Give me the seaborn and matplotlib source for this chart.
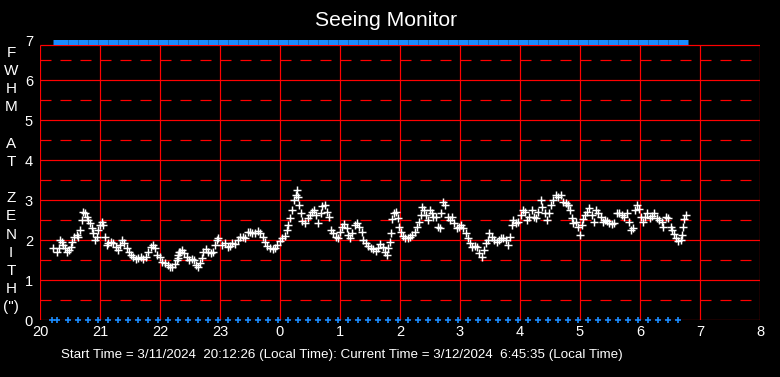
import matplotlib
matplotlib.use("Agg")
import matplotlib.pyplot as plt
import seaborn as sns
import pandas as pd

sns.set_theme(style="dark")
plt.rcParams['font.family'] = ['Liberation Sans', 'DejaVu Sans']
plt.rcParams['lines.scale_dashes'] = False

# ---------------- data ----------------
title = "Seeing Monitor"
footer = ("Start Time = 3/11/2024  20:12:26 (Local Time): "
          "Current Time = 3/12/2024  6:45:35 (Local Time)")
ylabel_letters = ["F", "W", "H", "M", "", "A", "T", "", "Z", "E", "N", "I", "T", "H", "(\")"]
x_ticks = [0, 1, 2, 3, 4, 5, 6, 7, 8, 9, 10, 11, 12]          # hours after 20:00
x_tick_labels = ["20", "21", "22", "23", "0", "1", "2", "3", "4", "5", "6", "7", "8"]
y_ticks = [0, 1, 2, 3, 4, 5, 6, 7]
y_half = [0.5, 1.5, 2.5, 3.5, 4.5, 5.5, 6.5]

# elapsed hours since 20:00 and FWHM (arcsec)
hours = [
    0.222, 0.278, 0.317, 0.333, 0.361, 0.389, 0.417, 0.444, 0.483, 0.517, 0.539, 0.572,
    0.611, 0.639, 0.667, 0.694, 0.722, 0.75, 0.778, 0.806, 0.833, 0.861, 0.889, 0.917,
    0.944, 0.972, 1.0, 1.028, 1.056, 1.083, 1.111, 1.139, 1.178, 1.222, 1.261, 1.294,
    1.333, 1.372, 1.406, 1.444, 1.483, 1.517, 1.556, 1.594, 1.639, 1.683, 1.722, 1.761,
    1.806, 1.85, 1.878, 1.917, 1.956, 2.0, 2.039, 2.083, 2.128, 2.167, 2.206, 2.25,
    2.294, 2.322,
    2.278, 2.306, 2.333, 2.372, 2.406, 2.444, 2.483, 2.528, 2.567, 2.6, 2.639, 2.667,
    2.694, 2.722, 2.761, 2.806, 2.85, 2.889, 2.917, 2.944, 2.972, 3.028, 3.083, 3.128,
    3.167, 3.206, 3.25, 3.294, 3.333, 3.378, 3.417, 3.461, 3.5, 3.539, 3.583, 3.628,
    3.672, 3.711, 3.75, 3.789, 3.833, 3.878, 3.917, 3.956, 4.0, 4.039, 4.083, 4.117,
    4.139, 4.167, 4.206, 4.233, 4.261, 4.283, 4.306, 4.322, 4.344, 4.372, 4.417, 4.461,
    4.5,
    4.528, 4.567, 4.6, 4.639, 4.678, 4.706, 4.75, 4.789, 4.822, 4.85, 4.889, 4.928,
    4.961, 5.0, 5.039, 5.072, 5.111, 5.139, 5.167, 5.206, 5.25, 5.289, 5.322, 5.361,
    5.389, 5.428, 5.472, 5.511, 5.556, 5.6, 5.639, 5.672, 5.711, 5.75, 5.778, 5.806,
    5.833, 5.85, 5.872, 5.906, 5.933, 5.961, 5.989, 6.017, 6.044, 6.083, 6.128, 6.167,
    6.206, 6.25, 6.283, 6.317, 6.344, 6.372, 6.4, 6.428, 6.461, 6.5, 6.528, 6.556,
    6.594, 6.628, 6.667,
    6.683, 6.711, 6.75, 6.794, 6.833, 6.872, 6.906, 6.944, 6.983, 7.017, 7.056, 7.094,
    7.139, 7.167, 7.206, 7.25, 7.289, 7.322, 7.361, 7.4, 7.433, 7.461, 7.489, 7.528,
    7.567, 7.611, 7.65, 7.683, 7.722, 7.761, 7.794, 7.833, 7.861, 7.889, 7.928, 7.972,
    8.017, 8.044, 8.083, 8.122, 8.156, 8.194, 8.233, 8.267, 8.306, 8.344, 8.372, 8.417,
    8.444, 8.483, 8.517, 8.556, 8.594, 8.639, 8.683, 8.722, 8.761, 8.794,
    8.806, 8.833, 8.861, 8.889, 8.928, 8.961, 9.0, 9.028, 9.056, 9.083, 9.122, 9.156,
    9.194, 9.233, 9.267, 9.306, 9.344, 9.378, 9.417, 9.456, 9.489, 9.528, 9.567, 9.611,
    9.65, 9.694, 9.733, 9.778, 9.817, 9.85, 9.889, 9.917, 9.944, 9.983, 10.017, 10.044,
    10.083, 10.122, 10.167, 10.206, 10.239, 10.278, 10.317, 10.361, 10.389, 10.428,
    10.472, 10.511, 10.539, 10.567, 10.6, 10.639, 10.678, 10.706, 10.722, 10.739, 10.761,
]
fwhm = [
    1.79, 1.71, 1.79, 2.0, 1.96, 1.875, 1.79, 1.71, 1.75, 1.83, 1.96, 2.08,
    2.12, 2.08, 2.25, 2.5, 2.71, 2.67, 2.58, 2.5, 2.42, 2.29, 2.17, 2.0,
    2.08, 2.25, 2.375, 2.46, 2.375, 2.08, 1.875, 1.92, 1.96, 1.92, 1.83, 1.75,
    1.875, 2.0, 1.92, 1.79, 1.71, 1.625, 1.57, 1.52, 1.54, 1.57, 1.53, 1.58,
    1.71, 1.83, 1.875, 1.79, 1.625, 1.57, 1.46, 1.42, 1.375, 1.33, 1.32, 1.40,
    1.54, 1.71,
    1.5, 1.625, 1.71, 1.75, 1.67, 1.57, 1.5, 1.52, 1.5, 1.375, 1.32, 1.42,
    1.54, 1.71, 1.77, 1.71, 1.67, 1.71, 1.875, 2.0, 2.04, 1.875, 1.92, 1.82,
    1.85, 1.92, 1.9, 2.0, 2.08, 2.08, 2.04, 2.21, 2.21, 2.17, 2.18, 2.22,
    2.17, 2.08, 1.96, 1.85, 1.79, 1.77, 1.79, 1.875, 1.98, 2.04, 2.1, 2.25,
    2.375, 2.54, 2.75, 3.0, 3.125, 3.25, 3.08, 2.875, 2.67, 2.48, 2.42, 2.54,
    2.625,
    2.71, 2.75, 2.625, 2.42, 2.67, 2.85, 2.875, 2.71, 2.58, 2.25, 2.17, 2.08,
    2.04, 2.21, 2.33, 2.4, 2.29, 2.12, 2.04, 2.17, 2.375, 2.42, 2.33, 2.21,
    2.0, 1.92, 1.85, 1.79, 1.77, 1.73, 1.79, 1.9, 1.83, 1.71, 1.625, 1.79,
    1.96, 2.17, 2.52, 2.67, 2.71, 2.54, 2.33, 2.21, 2.1, 2.04, 2.04, 2.08,
    2.12, 2.21, 2.32, 2.46, 2.625, 2.83, 2.75, 2.625, 2.5, 2.75, 2.67, 2.58,
    2.58, 2.33, 2.29,
    2.67, 2.94, 2.875, 2.58, 2.5, 2.58, 2.42, 2.29, 2.32, 2.375, 2.29, 2.17,
    2.04, 1.92, 1.83, 1.85, 1.82, 1.67, 1.57, 1.75, 1.93, 2.0, 2.17, 2.08,
    2.0, 1.96, 2.0, 2.04, 2.04, 2.0, 1.875, 2.08, 2.375, 2.5, 2.42, 2.46,
    2.625, 2.75, 2.71, 2.5, 2.58, 2.75, 2.58, 2.54, 2.71, 3.0, 2.83, 2.67,
    2.5, 2.67, 2.875, 3.0, 3.125, 3.08, 3.125, 2.96, 2.92, 2.875,
    2.875, 2.75, 2.54, 2.42, 2.46, 2.33, 2.12, 2.375, 2.52, 2.625, 2.71, 2.79,
    2.625, 2.46, 2.75, 2.67, 2.58, 2.46, 2.5, 2.48, 2.42, 2.4, 2.43, 2.67,
    2.68, 2.625, 2.58, 2.67, 2.46, 2.25, 2.29, 2.75, 2.875, 2.77, 2.58, 2.46,
    2.58, 2.67, 2.54, 2.6, 2.67, 2.54, 2.5, 2.46, 2.33, 2.58,
    2.54, 2.33, 2.25, 2.15, 2.04, 1.98, 2.0, 2.12, 2.33, 2.52, 2.625,
]

# status markers (minutes after 20:00)
status_low_min = [12, 17, 28, 38, 48, 58, 68, 78, 88, 98, 108, 118, 128, 138, 148, 158,
                  168, 178, 188, 198, 208, 218, 228, 238, 248, 258, 268, 278, 288, 298,
                  308, 318, 328, 338, 348, 358, 368, 378, 388, 398, 408, 418, 428, 438,
                  448, 458, 468, 478, 488, 498, 508, 518, 528, 538, 548, 558, 568, 578,
                  588, 598, 608, 618, 628, 638]
status_high_min = [18, 23, 33, 43, 53, 63, 73, 83, 93, 103, 113, 123, 133, 143, 153, 163,
                   173, 183, 193, 203, 213, 223, 233, 243, 253, 263, 273, 283, 293, 303,
                   313, 323, 333, 343, 353, 363, 373, 383, 393, 403, 413, 423, 433, 443,
                   453, 463, 473, 483, 493, 503, 513, 523, 533, 543, 553, 563, 573, 583,
                   593, 603, 613, 623, 633, 643]
status_low_value = 0.0
status_high_value = 6.94

# ---------------- plot ----------------
W, H = 780, 377
fig = plt.figure(figsize=(W / 100, H / 100), dpi=100, facecolor="black")
ax = fig.add_axes([40 / W, 57 / H, 720 / W, 286 / H])
ax.set_facecolor("black")
ax.set_xlim(0, 12)
ax.set_ylim(0, 7.15)
for s in ax.spines.values():
    s.set_visible(False)
ax.grid(False)

RED = "#ff0000"
BLUE = "#1a8cff"
frame_top = 6.875
px = 0.72  # points per pixel

ax.hlines(y_ticks[:-1] + [frame_top], 0, 12, colors=RED, linewidth=1.2 * px, zorder=1)
ax.vlines(x_ticks, 0, frame_top, colors=RED, linewidth=1.2 * px, zorder=1)
ax.hlines(y_half, 0, 12, colors=RED, linewidth=1.2 * px,
          linestyles=[(0, (11 * px, 9 * px))], zorder=1)

df = pd.DataFrame({"hours": hours, "fwhm": fwhm})
sns.scatterplot(data=df, x="hours", y="fwhm", marker="+", color="white",
                s=28, linewidth=1.05, ax=ax, legend=False, zorder=3)

low = pd.DataFrame({"hours": [m / 60 for m in status_low_min],
                    "v": [status_low_value] * len(status_low_min)})
sns.scatterplot(data=low, x="hours", y="v", marker="+", color=BLUE, s=16,
                linewidth=1.2, ax=ax, legend=False, zorder=4, clip_on=False)
high = pd.DataFrame({"hours": [m / 60 for m in status_high_min],
                     "v": [status_high_value] * len(status_high_min)})
sns.scatterplot(data=high, x="hours", y="v", marker="_", color=BLUE, s=45,
                linewidth=3.6, ax=ax, legend=False, zorder=4, clip_on=False)

ax.set_xlabel("")
ax.set_ylabel("")
ax.set_xticks(x_ticks, x_tick_labels)
ax.set_yticks(y_ticks, [str(v) for v in y_ticks])
ax.tick_params(axis="both", colors="white", length=0, labelsize=10.5)
ax.tick_params(axis="x", pad=3.5)
ax.tick_params(axis="y", pad=5)
for lab in ax.get_xticklabels() + ax.get_yticklabels():
    lab.set_color("white")

fig.text(386.5 / W, 1 - 21 / H, title, ha="center", va="center",
         color="white", fontsize=15.2)
fig.text(342 / W, 1 - 355 / H, footer, ha="center", va="center",
         color="white", fontsize=9.6)
for i, letter in enumerate(ylabel_letters):
    if letter:
        fig.text(11 / W, 1 - (52.7 + 18.2 * i) / H, letter, ha="center", va="center",
                 color="white", fontsize=11)

fig.savefig("out.png", dpi=100, facecolor="black")
